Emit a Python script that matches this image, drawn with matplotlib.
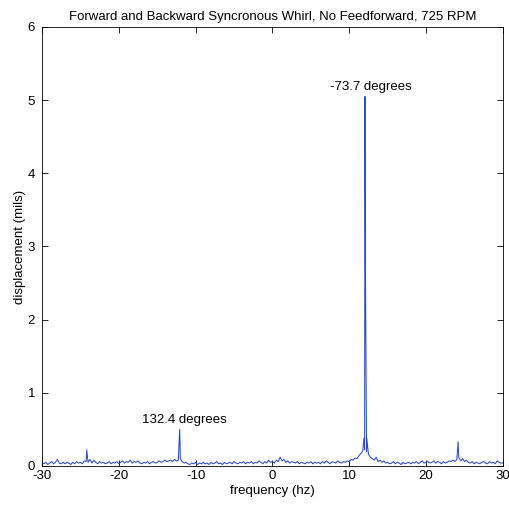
import numpy as np
import matplotlib
matplotlib.use('Agg')
import matplotlib.pyplot as plt

# noise floor of the spectrum, read on a 0.25 Hz grid from -30 to 30 Hz
noise_amp = [
    0.04, 0.03, 0.05, 0.02, 0.04, 0.06, 0.03, 0.05, 0.09, 0.04, 0.03, 0.05,
    0.03, 0.05, 0.04, 0.02, 0.05, 0.03, 0.06, 0.04, 0.05, 0.03, 0.07, 0.06,
    0.05, 0.09, 0.04, 0.08, 0.05, 0.03, 0.06, 0.04, 0.05, 0.03, 0.04, 0.06,
    0.03, 0.05, 0.04, 0.06, 0.03, 0.05, 0.07, 0.04, 0.06, 0.05, 0.08, 0.04,
    0.06, 0.05, 0.07, 0.04, 0.03, 0.05, 0.04, 0.06, 0.03, 0.05, 0.06, 0.04,
    0.05, 0.07, 0.05, 0.06, 0.08, 0.06, 0.07, 0.08, 0.06, 0.09, 0.07, 0.08,
    0.10, 0.06, 0.04, 0.05, 0.03, 0.02, 0.04, 0.03, 0.05, 0.02, 0.04, 0.03,
    0.05, 0.03, 0.04, 0.02, 0.05, 0.03, 0.04, 0.06, 0.03, 0.04, 0.02, 0.05,
    0.03, 0.04, 0.05, 0.03, 0.06, 0.04, 0.03, 0.05, 0.04, 0.06, 0.03, 0.05,
    0.04, 0.06, 0.03, 0.05, 0.04, 0.07, 0.05, 0.03, 0.06, 0.04, 0.08, 0.05,
    0.06, 0.04, 0.08, 0.06, 0.12, 0.07, 0.09, 0.05, 0.07, 0.04, 0.06, 0.05,
    0.04, 0.06, 0.03, 0.05, 0.04, 0.03, 0.05, 0.04, 0.06, 0.03, 0.05, 0.04,
    0.05, 0.03, 0.06, 0.04, 0.07, 0.05, 0.03, 0.06, 0.05, 0.04, 0.07, 0.05,
    0.04, 0.06, 0.05, 0.07, 0.06, 0.09, 0.08, 0.11, 0.10, 0.14, 0.17, 0.20,
    0.22, 0.20, 0.16, 0.12, 0.10, 0.08, 0.12, 0.06, 0.08, 0.05, 0.07, 0.04,
    0.05, 0.03, 0.04, 0.06, 0.03, 0.05, 0.04, 0.02, 0.05, 0.03, 0.04, 0.05,
    0.03, 0.05, 0.04, 0.06, 0.03, 0.05, 0.07, 0.04, 0.05, 0.06, 0.04, 0.05,
    0.07, 0.04, 0.06, 0.05, 0.03, 0.06, 0.04, 0.05, 0.07, 0.06, 0.08, 0.06,
    0.09, 0.12, 0.07, 0.10, 0.06, 0.08, 0.05, 0.04, 0.06, 0.03, 0.05, 0.04,
    0.03, 0.05, 0.06, 0.04, 0.03, 0.06, 0.04, 0.05, 0.03, 0.07, 0.05, 0.04,
    0.04,
]
noise_freq = np.linspace(-30, 30, len(noise_amp))

# synchronous peaks (forward +12.08 Hz, backward -12.08 Hz, and 2x harmonics)
peak_freq = [-24.17, -24.08, -12.08, -12.02, 11.92, 12.05, 12.10, 12.28, 24.08, 24.17]
peak_amp = [0.22, 0.12, 0.50, 0.29, 0.38, 5.05, 2.83, 0.38, 0.20, 0.33]

freq = np.concatenate([noise_freq, peak_freq])
amp = np.concatenate([noise_amp, peak_amp])
order = np.argsort(freq)
freq = freq[order]
amp = amp[order]

plt.rcParams['font.family'] = ['Liberation Sans', 'DejaVu Sans']
plt.rcParams['axes.unicode_minus'] = False

fig = plt.figure(figsize=(5.09, 5.08), dpi=100)
ax = fig.add_axes([0.0825, 0.0827, 0.9055, 0.8642])
ax.plot(freq, amp, color='#2a4cc0', linewidth=0.75)

ax.text(12.8, 5.1, '-73.7 degrees', ha='center', va='bottom', fontsize=9.5)
ax.text(-11.4, 0.55, '132.4 degrees', ha='center', va='bottom', fontsize=9.5)

ax.set_xlim(-30, 30)
ax.set_ylim(0, 6)
ax.set_xticks([-30, -20, -10, 0, 10, 20, 30])
ax.set_yticks([0, 1, 2, 3, 4, 5, 6])
ax.tick_params(direction='in', top=True, right=True, length=4, labelsize=9.5, width=0.6)
ax.tick_params(axis='x', pad=3)
ax.tick_params(axis='y', pad=5)
for s in ax.spines.values():
    s.set_linewidth(0.6)
ax.set_xlabel('frequency (hz)', fontsize=9.5, labelpad=2)
ax.set_ylabel('displacement (mils)', fontsize=9.5, labelpad=1)
ax.set_title('Forward and Backward Syncronous Whirl, No Feedforward, 725 RPM', fontsize=9.5, pad=5)

fig.savefig('out.png', dpi=100)
